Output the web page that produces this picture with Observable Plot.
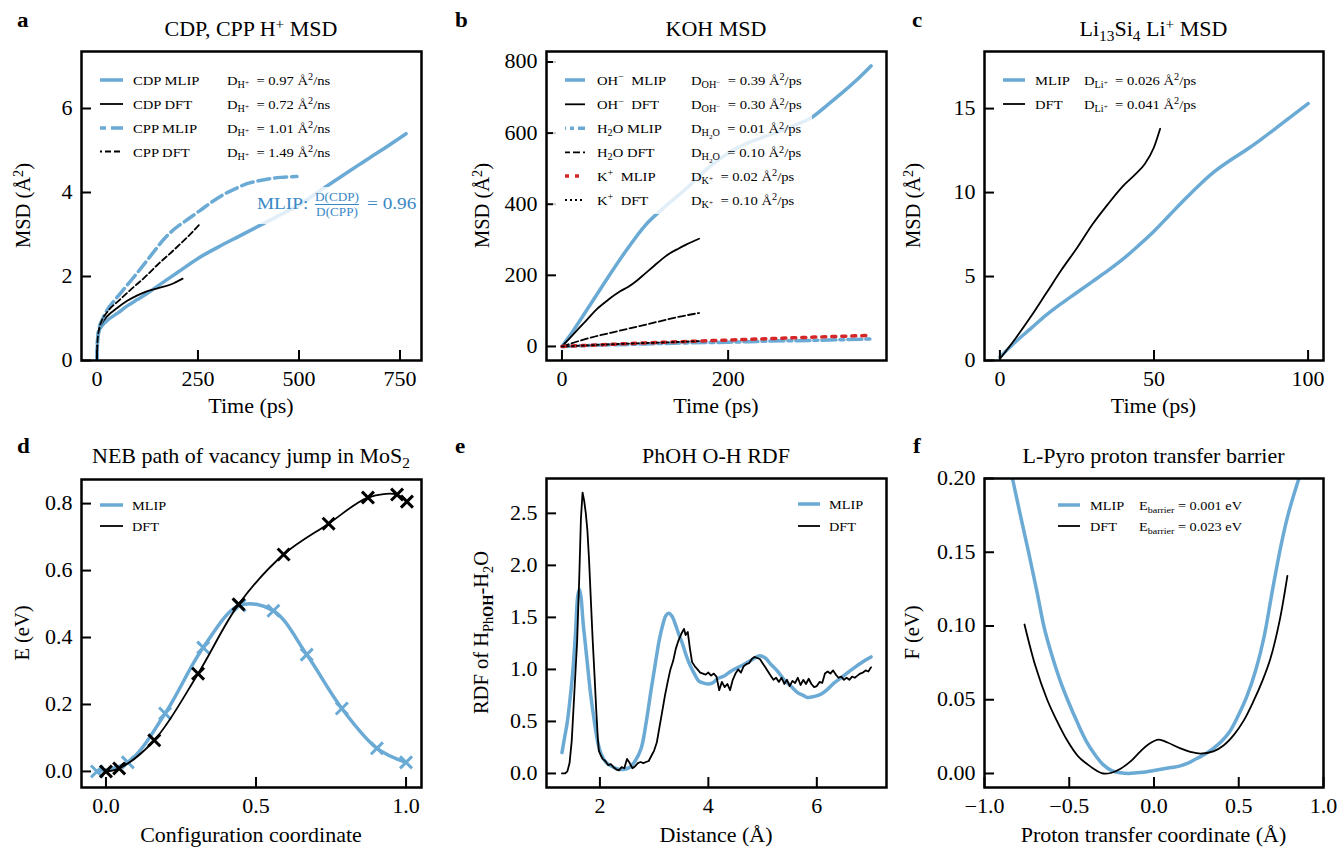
<!DOCTYPE html>
<html><head><meta charset="utf-8">
<script src="https://cdn.jsdelivr.net/npm/d3@7"></script>
<script src="https://cdn.jsdelivr.net/npm/@observablehq/plot@0.6"></script>
<style>
body{margin:0;background:#fff;}
#fig{position:relative;width:1338px;height:848px;overflow:hidden;background:#fff;}
</style></head>
<body><div id="fig"></div>
<script>
// ---------------- DATA ----------------
// Panel a: CDP, CPP H+ MSD
const aCdpMlipT   = [0,1,3,6,12,25,50,75,100,125,150,200,250,300,350,400,450,500,550,600,650,700,765];
const aCdpMlipMsd = [0,0.35,0.6,0.72,0.82,0.95,1.12,1.3,1.45,1.6,1.77,2.1,2.43,2.7,2.95,3.2,3.45,3.7,4.03,4.35,4.67,4.98,5.4];
const aCdpDftT    = [0,1,3,6,12,25,50,75,100,125,150,170,190,212];
const aCdpDftMsd  = [0,0.4,0.62,0.75,0.88,1.05,1.25,1.42,1.55,1.65,1.72,1.77,1.84,1.95];
const aCppMlipT   = [0,1,3,6,12,25,45,64,90,114,140,165,188,220,255,285,317,345,371,400,428,455,495];
const aCppMlipMsd = [0,0.4,0.65,0.8,0.95,1.2,1.45,1.67,1.97,2.26,2.58,2.88,3.1,3.33,3.57,3.78,3.97,4.1,4.21,4.28,4.33,4.36,4.38];
const aCppDftT    = [0,1,3,6,12,25,57,85,115,150,189,225,257];
const aCppDftMsd  = [0,0.4,0.62,0.78,0.95,1.15,1.45,1.7,1.95,2.28,2.62,2.95,3.27];

// Panel b: KOH MSD
const bOhMlipT    = [0,10,25,50,75,100,125,150,175,204,230,256,280,300,320,337,355,372];
const bOhMlipMsd  = [0,32,85,175,262,340,395,445,500,549,578,600,622,643,680,713,750,789];
const bOhDftT     = [0,10,20,30,42,55,70,80,90,100,110,120,130,140,150,165];
const bOhDftMsd   = [0,25,50,75,105,130,155,168,185,205,225,245,262,275,287,303];
const bH2oMlipT   = [0,50,100,150,200,250,300,372];
const bH2oMlipMsd = [0,4,7,10,12,15,17,21];
const bH2oDftT    = [0,20,40,60,80,100,120,140,165];
const bH2oDftMsd  = [0,15,28,39,50,61,72,83,94];
const bKMlipT     = [0,50,100,150,200,250,300,372];
const bKMlipMsd   = [0,5,10,14,18,22,26,31];
const bKDftT      = [0,40,80,120,165];
const bKDftMsd    = [0,4,8,11,15];

// Panel c: Li13Si4 Li+ MSD
const cMlipT   = [0,5,10,15,20,25,30,35,40,45,50,55,60,65,70,75,80,85,90,95,100];
const cMlipMsd = [0.2,1.1,1.9,2.7,3.4,4.05,4.7,5.35,6.05,6.85,7.7,8.65,9.6,10.5,11.3,11.95,12.55,13.2,13.9,14.6,15.3];
const cDftT    = [0,5,10,15,20,25,30,35,40,44,47,50,52];
const cDftMsd  = [0.1,1.3,2.6,4.0,5.4,6.7,8.1,9.3,10.4,11.1,11.7,12.7,13.8];

// Panel d: NEB path
const dMlipC = [-0.03,0.073,0.197,0.324,0.445,0.558,0.669,0.786,0.903,1.0];
const dMlipE = [0,0.027,0.173,0.37,0.496,0.48,0.349,0.188,0.069,0.027];
const dDftC  = [0,0.044,0.161,0.307,0.442,0.592,0.742,0.873,0.97,1.003];
const dDftE  = [0,0.009,0.093,0.292,0.499,0.648,0.74,0.818,0.827,0.806];

// Panel e: PhOH O-H RDF
const eMlipR = [1.30,1.35,1.40,1.45,1.50,1.55,1.59,1.62,1.65,1.69,1.73,1.77,1.82,1.87,1.92,1.96,2.02,2.08,2.15,2.25,2.35,2.45,2.55,2.65,2.76,2.85,2.94,3.02,3.09,3.16,3.22,3.27,3.33,3.40,3.46,3.52,3.60,3.68,3.75,3.82,3.90,3.98,4.08,4.17,4.30,4.41,4.55,4.66,4.80,4.93,5.05,5.15,5.28,5.40,5.52,5.64,5.75,5.83,5.95,6.07,6.20,6.32,6.45,6.57,6.70,6.81,6.90,7.00];
const eMlipG = [0.20,0.35,0.5,0.72,0.98,1.35,1.7,1.77,1.7,1.45,1.25,1.05,0.8,0.6,0.42,0.3,0.19,0.13,0.09,0.06,0.04,0.04,0.06,0.12,0.24,0.48,0.79,1.05,1.27,1.43,1.52,1.54,1.51,1.42,1.33,1.25,1.12,1.02,0.95,0.89,0.87,0.86,0.87,0.91,0.94,0.98,1.02,1.05,1.09,1.13,1.11,1.05,0.98,0.9,0.84,0.78,0.75,0.73,0.74,0.76,0.81,0.87,0.92,0.97,1.02,1.06,1.09,1.12];
const eDftR = [1.30,1.36,1.40,1.44,1.48,1.53,1.58,1.62,1.65,1.68,1.71,1.74,1.77,1.80,1.83,1.865,1.90,1.93,1.96,1.98,2.02,2.05,2.10,2.15,2.20,2.25,2.30,2.35,2.40,2.45,2.50,2.55,2.60,2.65,2.70,2.75,2.80,2.85,2.90,2.95,3.00,3.05,3.10,3.15,3.20,3.25,3.30,3.35,3.40,3.45,3.50,3.55,3.58,3.62,3.66,3.70,3.75,3.80,3.85,3.90,3.95,4.00,4.05,4.10,4.15,4.20,4.25,4.30,4.35,4.40,4.45,4.50,4.55,4.60,4.65,4.70,4.75,4.80,4.85,4.90,4.95,5.00,5.05,5.10,5.15,5.20,5.25,5.30,5.35,5.40,5.45,5.50,5.55,5.60,5.65,5.70,5.75,5.80,5.85,5.90,5.95,6.00,6.05,6.10,6.15,6.20,6.25,6.30,6.35,6.40,6.45,6.50,6.55,6.60,6.65,6.70,6.75,6.80,6.85,6.90,6.95,7.00];
const eDftG = [0,0,0.02,0.1,0.31,0.79,1.27,1.9,2.45,2.7,2.62,2.5,2.33,2.05,1.7,1.3,0.95,0.63,0.35,0.22,0.17,0.14,0.12,0.08,0.09,0.06,0.04,0.03,0.06,0.05,0.14,0.1,0.05,0.07,0.1,0.11,0.1,0.11,0.12,0.17,0.22,0.3,0.45,0.6,0.75,0.88,1.0,1.08,1.2,1.28,1.34,1.39,1.33,1.36,1.2,1.07,1.03,1.0,0.97,0.96,0.95,0.97,0.94,0.96,0.93,0.8,0.88,0.83,0.86,0.8,0.9,0.96,1.0,0.97,1.03,1.05,1.06,1.1,1.12,1.11,1.1,1.06,1.02,0.98,0.94,0.9,0.92,0.88,0.92,0.86,0.9,0.84,0.89,0.87,0.92,0.85,0.9,0.86,0.91,0.86,0.83,0.84,0.88,0.87,0.96,0.98,0.96,0.99,0.95,0.92,0.93,0.9,0.92,0.9,0.93,0.92,0.94,0.96,0.97,0.99,0.98,1.02];

// Panel f: L-Pyro proton transfer barrier
const fMlipX = [-0.835,-0.79,-0.74,-0.69,-0.65,-0.61,-0.56,-0.51,-0.45,-0.4,-0.35,-0.3,-0.25,-0.2,-0.15,-0.1,-0.05,0,0.05,0.1,0.15,0.2,0.25,0.3,0.35,0.4,0.45,0.5,0.55,0.6,0.65,0.7,0.75,0.79,0.855];
const fMlipF = [0.2,0.176,0.15,0.123,0.1,0.083,0.065,0.05,0.034,0.022,0.013,0.006,0.002,0.0005,0,0.0005,0.001,0.002,0.003,0.004,0.005,0.007,0.01,0.013,0.017,0.022,0.029,0.04,0.053,0.07,0.093,0.125,0.155,0.175,0.2];
const fDftX  = [-0.764,-0.7,-0.63,-0.57,-0.51,-0.45,-0.39,-0.34,-0.3,-0.25,-0.2,-0.14,-0.08,-0.03,0.027,0.08,0.156,0.22,0.274,0.35,0.41,0.47,0.53,0.587,0.64,0.687,0.74,0.787];
const fDftF  = [0.101,0.073,0.05,0.035,0.022,0.012,0.006,0.002,0.0,0.0005,0.003,0.008,0.015,0.02,0.023,0.021,0.017,0.0145,0.0135,0.015,0.019,0.026,0.036,0.049,0.063,0.078,0.103,0.134];

// Axis ticks
const aXTicks = [0,250,500,750], aYTicks = [0,2,4,6];
const bXTicks = [0,200], bYTicks = [0,200,400,600,800];
const cXTicks = [0,50,100], cYTicks = [0,5,10,15];
const dXTicks = [0,0.5,1.0], dYTicks = [0,0.2,0.4,0.6,0.8];
const eXTicks = [2,4,6], eYTicks = [0,0.5,1.0,1.5,2.0,2.5];
const fXTicks = [-1,-0.5,0,0.5,1], fYTicks = [0,0.05,0.1,0.15,0.2];

// ---------------- STYLE / LAYOUT ----------------
const FONT = '"Liberation Serif", "Times New Roman", serif';
const BLUE = "#6aaad4", ABLUE = "#3a88c5", RED = "#d62728";
const SX = 1.1; // horizontal glyph stretch of the reference
const fig = document.getElementById("fig");
const rows = (xs, ys) => xs.map((x, i) => ({x, y: ys[i]}));
const f1 = d3.format(".1f"), f2 = d3.format(".2f"), f0 = d3.format("d");

const frames = {
  a: {x0: 81, x1: 421, y0: 51, y1: 360},
  b: {x0: 546, x1: 886, y0: 51, y1: 360},
  c: {x0: 984, x1: 1323, y0: 51, y1: 360},
  d: {x0: 81, x1: 421, y0: 479, y1: 787},
  e: {x0: 546, x1: 886, y0: 478, y1: 787},
  f: {x0: 984, x1: 1323, y0: 478, y1: 787}
};

function stretchText(svg) {
  svg.querySelectorAll("text").forEach((t) => {
    const tr = t.getAttribute("transform");
    if (tr) { t.setAttribute("transform", tr + ` scale(${SX},1)`); return; }
    const x = +(t.getAttribute("x") || 0), y = +(t.getAttribute("y") || 0);
    t.setAttribute("x", 0); t.setAttribute("y", 0);
    t.setAttribute("transform", `translate(${x},${y}) scale(${SX},1)`);
  });
}

function drawPanel(fr, xo, yo, marks) {
  const ml = 75, mr = 15, mt = 15, mb = 45;
  const w = fr.x1 - fr.x0, h = fr.y1 - fr.y0;
  const p = Plot.plot({
    width: w + ml + mr, height: h + mt + mb,
    marginLeft: ml, marginRight: mr, marginTop: mt, marginBottom: mb,
    x: {domain: xo.domain, label: null},
    y: {domain: yo.domain, label: null},
    style: {fontFamily: FONT, fontSize: "20px", color: "#000", background: "transparent", overflow: "visible"},
    marks: [
      ...marks,
      Plot.frame({stroke: "#000", strokeWidth: 2.5}),
      Plot.axisX({ticks: xo.ticks, tickFormat: xo.fmt, tickSize: -10, tickPadding: 21, strokeWidth: 2, label: null}),
      Plot.axisY({ticks: yo.ticks, tickFormat: yo.fmt, tickSize: -10, tickPadding: 19, strokeWidth: 2, label: null})
    ]
  });
  stretchText(p);
  p.style.position = "absolute";
  p.style.left = (fr.x0 - ml) + "px";
  p.style.top = (fr.y0 - mt) + "px";
  fig.appendChild(p);
}

const L = (xs, ys, o) => Plot.line(rows(xs, ys), {x: "x", y: "y", clip: true, curve: "monotone-x", ...o});

// Panel a
drawPanel(frames.a, {domain: [-38.25, 803.25], ticks: aXTicks, fmt: f0}, {domain: [0, 7.357], ticks: aYTicks, fmt: f0}, [
  L(aCdpMlipT, aCdpMlipMsd, {stroke: BLUE, strokeWidth: 3.5}),
  L(aCdpDftT, aCdpDftMsd, {stroke: "#000", strokeWidth: 1.8}),
  L(aCppMlipT, aCppMlipMsd, {stroke: BLUE, strokeWidth: 3.5, strokeDasharray: "12,5"}),
  L(aCppDftT, aCppDftMsd, {stroke: "#000", strokeWidth: 1.8, strokeDasharray: "6,3"})
]);
// Panel b
drawPanel(frames.b, {domain: [-18.6, 390.6], ticks: bXTicks, fmt: f0}, {domain: [-39.5, 829.5], ticks: bYTicks, fmt: f0}, [
  L(bOhMlipT, bOhMlipMsd, {stroke: BLUE, strokeWidth: 3.5}),
  L(bOhDftT, bOhDftMsd, {stroke: "#000", strokeWidth: 1.8}),
  L(bH2oMlipT, bH2oMlipMsd, {stroke: BLUE, strokeWidth: 3.5, strokeDasharray: "14,4,4,4"}),
  L(bH2oDftT, bH2oDftMsd, {stroke: "#000", strokeWidth: 1.8, strokeDasharray: "7,3"}),
  L(bKMlipT, bKMlipMsd, {stroke: RED, strokeWidth: 3.5, strokeDasharray: "4,6"}),
  L(bKDftT, bKDftMsd, {stroke: "#000", strokeWidth: 1.8, strokeDasharray: "2,3"})
]);
// Panel c
drawPanel(frames.c, {domain: [-5, 105], ticks: cXTicks, fmt: f0}, {domain: [0, 18.4], ticks: cYTicks, fmt: f0}, [
  L(cMlipT, cMlipMsd, {stroke: BLUE, strokeWidth: 3.5}),
  L(cDftT, cDftMsd, {stroke: "#000", strokeWidth: 1.8})
]);
// Panel d
drawPanel(frames.d, {domain: [-0.0815, 1.0515], ticks: dXTicks, fmt: f1}, {domain: [-0.048, 0.872], ticks: dYTicks, fmt: f1}, [
  L(dMlipC, dMlipE, {stroke: BLUE, strokeWidth: 3.5, curve: "catmull-rom"}),
  Plot.dot(rows(dMlipC, dMlipE), {x: "x", y: "y", symbol: "times", r: 5.5, stroke: BLUE, strokeWidth: 3}),
  L(dDftC, dDftE, {stroke: "#000", strokeWidth: 1.8, curve: "catmull-rom"}),
  Plot.dot(rows(dDftC, dDftE), {x: "x", y: "y", symbol: "times", r: 5.5, stroke: "#000", strokeWidth: 3})
]);
// Panel e
drawPanel(frames.e, {domain: [1.015, 7.285], ticks: eXTicks, fmt: f0}, {domain: [-0.135, 2.835], ticks: eYTicks, fmt: f1}, [
  L(eMlipR, eMlipG, {stroke: BLUE, strokeWidth: 3.5, curve: "catmull-rom"}),
  L(eDftR, eDftG, {stroke: "#000", strokeWidth: 1.8, curve: "linear"})
]);
// Panel f
drawPanel(frames.f, {domain: [-1, 1], ticks: fXTicks, fmt: f1}, {domain: [-0.0095, 0.2], ticks: fYTicks, fmt: f2}, [
  L(fMlipX, fMlipF, {stroke: BLUE, strokeWidth: 3.5, curve: "catmull-rom"}),
  L(fDftX, fDftF, {stroke: "#000", strokeWidth: 1.8, curve: "catmull-rom"})
]);

// ---------------- TEXT OVERLAY ----------------
const ov = d3.select(fig).append("svg")
  .attr("width", 1338).attr("height", 848)
  .style("position", "absolute").style("left", "0px").style("top", "0px")
  .style("font-family", FONT);

function rich(x, y, segs, {size = 20, anchor = "start", fill = "#000", weight = "normal", rotate = false} = {}) {
  const t = ov.append("text").attr("x", 0).attr("y", 0).attr("font-size", size)
    .attr("text-anchor", anchor).attr("fill", fill).attr("font-weight", weight)
    .attr("transform", rotate ? `translate(${x},${y}) rotate(-90)` : `translate(${x},${y}) scale(${SX},1)`)
    .style("white-space", "pre");
  let shift = 0;
  for (const s of segs) {
    const [str, sh = 0, sc = 1, w] = typeof s === "string" ? [s] : s;
    const ts = t.append("tspan").text(str).attr("font-size", size * sc).attr("dy", (shift - sh) * size);
    if (w) ts.attr("font-weight", w);
    shift = sh;
  }
  return t;
}
const SUP = (s) => [s, 0.36, 0.7];
const SUB = (s) => [s, -0.24, 0.7];
const SSUP = (s) => [s, 0.0, 0.5];
const SSUB = (s) => [s, -0.4, 0.5];
function handle(x1, x2, y, stroke, width, dash, offset) {
  ov.append("line").attr("x1", x1).attr("x2", x2).attr("y1", y).attr("y2", y)
    .attr("stroke", stroke).attr("stroke-width", width)
    .attr("stroke-dasharray", dash || null).attr("stroke-dashoffset", offset || null);
}

// semi-transparent boxes (legend / annotation backgrounds)
ov.append("rect").attr("x", 250).attr("y", 187).attr("width", 168).attr("height", 37).attr("fill", "#fff").attr("fill-opacity", 0.8);
ov.append("rect").attr("x", 553).attr("y", 60).attr("width", 259).attr("height", 154).attr("fill", "#fff").attr("fill-opacity", 0.8);

// Panel letters
[["a", 17, 27], ["b", 455, 27], ["c", 912, 27], ["d", 17, 453], ["e", 455, 453], ["f", 913, 453]]
  .forEach(([s, x, y]) => rich(x, y, [s], {size: 21, weight: "bold"}));

const cx = (fr) => (fr.x0 + fr.x1) / 2, cy = (fr) => (fr.y0 + fr.y1) / 2;
// Titles
rich(cx(frames.a), 36, ["CDP, CPP H", SUP("+"), [" MSD", 0]], {anchor: "middle"});
rich(cx(frames.b), 36, ["KOH MSD"], {anchor: "middle"});
rich(cx(frames.c), 36, ["Li", SUB("13"), ["Si", 0], SUB("4"), [" Li", 0], SUP("+"), [" MSD", 0]], {anchor: "middle"});
rich(cx(frames.d), 463, ["NEB path of vacancy jump in MoS", SUB("2")], {anchor: "middle"});
rich(cx(frames.e), 463, ["PhOH O-H RDF"], {anchor: "middle"});
rich(cx(frames.f), 463, ["L-Pyro proton transfer barrier"], {anchor: "middle"});
// X labels
rich(cx(frames.a), 413, ["Time (ps)"], {anchor: "middle"});
rich(cx(frames.b), 413, ["Time (ps)"], {anchor: "middle"});
rich(cx(frames.c), 413, ["Time (ps)"], {anchor: "middle"});
rich(cx(frames.d), 842, ["Configuration coordinate"], {anchor: "middle"});
rich(cx(frames.e), 842, ["Distance (Å)"], {anchor: "middle"});
rich(cx(frames.f), 842, ["Proton transfer coordinate (Å)"], {anchor: "middle"});
// Y labels
const msdLab = ["MSD (Å", SUP("2"), [")", 0]];
rich(30, cy(frames.a), msdLab, {size: 20.5, anchor: "middle", rotate: true});
rich(489, cy(frames.b), msdLab, {size: 20.5, anchor: "middle", rotate: true});
rich(920, cy(frames.c), msdLab, {size: 20.5, anchor: "middle", rotate: true});
rich(29, cy(frames.d), ["E (eV)"], {size: 20.5, anchor: "middle", rotate: true});
rich(488, cy(frames.e), ["RDF of H", SUB("Ph"), ["OH", -0.24, 0.7, "bold"], ["-H", 0], SUB("2"), ["O", 0]], {size: 20.5, anchor: "middle", rotate: true});
rich(919, cy(frames.f), ["F (eV)"], {size: 20.5, anchor: "middle", rotate: true});

// Annotation in panel a
rich(257, 209, ["MLIP:"], {size: 17.5, fill: ABLUE});
rich(337, 201, ["D(CDP)"], {size: 12, anchor: "middle", fill: ABLUE});
ov.append("line").attr("x1", 315).attr("x2", 359).attr("y1", 204.5).attr("y2", 204.5).attr("stroke", ABLUE).attr("stroke-width", 1);
rich(337, 216, ["D(CPP)"], {size: 12, anchor: "middle", fill: ABLUE});
rich(367, 209, ["= 0.96"], {size: 17.5, fill: ABLUE});

// Legends
const LS = 13.3;
const dLab = (sub, val, unit) => ["D", ...sub, [`  = ${val} Å`, 0], SUP("2"), [`/${unit}`, 0]];
const Hp = [SUB("H"), SSUP("+")];
// a
const aRows = [80, 104, 128, 151.5];
handle(100, 123, aRows[0], BLUE, 3.5);
handle(100, 123, aRows[1], "#000", 1.8);
handle(100, 123, aRows[2], BLUE, 3.5, "12,5", 6);
handle(100, 123, aRows[3], "#000", 1.8, "6,3", 4);
[["CDP MLIP", "0.97"], ["CDP DFT", "0.72"], ["CPP MLIP", "1.01"], ["CPP DFT", "1.49"]].forEach(([n, v], i) => {
  rich(133, aRows[i] + 5, [n], {size: LS});
  rich(227, aRows[i] + 5, dLab(Hp, v, "ns"), {size: LS});
});
// b
const bRows = [80, 104.3, 128.3, 152.3, 176, 200];
handle(565, 585, bRows[0], BLUE, 3.5);
handle(565, 585, bRows[1], "#000", 1.8);
handle(565, 585, bRows[2], BLUE, 3.5, "14,4,4,4", 13);
handle(565, 585, bRows[3], "#000", 1.8, "7,3", 2);
handle(565, 585, bRows[4], RED, 3.5, "4,6");
handle(565, 585, bRows[5], "#000", 1.8, "2,3");
const OHm = [SUB("OH"), SSUP("−")];
const H2O = [SUB("H"), SSUB("2"), SUB("O")];
const Kp = [SUB("K"), SSUP("+")];
const bNames = [
  ["OH", SUP("−"), ["  MLIP", 0]], ["OH", SUP("−"), ["  DFT", 0]],
  ["H", SUB("2"), ["O MLIP", 0]], ["H", SUB("2"), ["O DFT", 0]],
  ["K", SUP("+"), ["  MLIP", 0]], ["K", SUP("+"), ["  DFT", 0]]
];
const bD = [[OHm, "0.39"], [OHm, "0.30"], [H2O, "0.01"], [H2O, "0.10"], [Kp, "0.02"], [Kp, "0.10"]];
bNames.forEach((n, i) => {
  rich(597, bRows[i] + 5, n, {size: LS});
  rich(691, bRows[i] + 5, dLab(bD[i][0], bD[i][1], "ps"), {size: LS});
});
// c
const Lip = [SUB("Li"), SSUP("+")];
handle(1003, 1025, 80, BLUE, 3.5);
handle(1003, 1025, 104, "#000", 1.8);
rich(1035, 85, ["MLIP"], {size: LS});
rich(1035, 109, ["DFT"], {size: LS});
rich(1084, 85, dLab(Lip, "0.026", "ps"), {size: LS});
rich(1084, 109, dLab(Lip, "0.041", "ps"), {size: LS});
// d
handle(100, 123, 505, BLUE, 3.5);
handle(100, 123, 526, "#000", 1.8);
rich(132, 510, ["MLIP"], {size: 13});
rich(132, 531, ["DFT"], {size: 13});
// e
handle(798, 820, 504, BLUE, 3.5);
handle(798, 820, 526, "#000", 1.8);
rich(829, 509, ["MLIP"], {size: 13});
rich(829, 531, ["DFT"], {size: 13});
// f
handle(1058, 1080, 505, BLUE, 3.5);
handle(1058, 1080, 526, "#000", 1.8);
rich(1090, 510, ["MLIP"], {size: 13});
rich(1090, 531, ["DFT"], {size: 13});
rich(1139, 510, ["E", SUB("barrier"), [" = 0.001 eV", 0]], {size: 13});
rich(1139, 531, ["E", SUB("barrier"), [" = 0.023 eV", 0]], {size: 13});
</script>
</body></html>
